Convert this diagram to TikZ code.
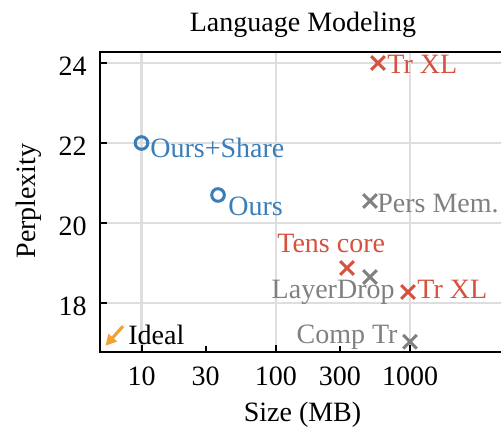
\documentclass[tikz,border=0pt]{standalone}
\usepackage{fontspec}
\setmainfont{Liberation Serif}
\usetikzlibrary{shapes.misc,arrows.meta}

\definecolor{oursblue}{RGB}{58,125,184}
\definecolor{trred}{RGB}{212,82,62}
\definecolor{othergrey}{RGB}{128,128,128}
\definecolor{idealorange}{RGB}{242,162,48}
\definecolor{gridgrey}{RGB}{222,222,222}

\begin{document}
\begin{tikzpicture}[
    every node/.style={font=\fontsize{14}{16}\selectfont, inner sep=0pt},
    ringmark/.style={circle, draw=oursblue, line width=1.5pt, minimum size=6.3pt},
    crossmark/.style={cross out, draw=#1, line width=1.5pt, minimum size=5.3pt},
    gridline/.style={draw=gridgrey, line width=1.2pt},
    spine/.style={line width=1pt}
]
    \useasboundingbox (0,0) rectangle (250.5pt,215pt);
    \clip (0,0) rectangle (250.5pt,215pt);

    % Title and axis labels
    \node[anchor=base] (title) at (151.5pt,199.5pt) {Language Modeling};
    \node[anchor=base] (xlabel) at (151.25pt,4.5pt) {Size (MB)};
    \node[rotate=90] (ylabel) at (14.5pt,114.5pt) {Perplexity};

    % log10(size) along x, perplexity along y
    \begin{scope}[shift={(3.625pt,-296.5pt)}, x=67.125pt, y=20pt]
        % Grid
        \foreach \lx in {1,2,3}
            \draw[gridline] (\lx,16.775) -- (\lx,24.275);
        \foreach \py in {18,20,22,24}
            \draw[gridline] (0.691,\py) -- (3.8,\py);

        % Frame
        \draw[spine] (3.8,24.275) -- (0.691,24.275) -- (0.691,16.775) -- (3.8,16.775);

        % Ticks
        \foreach \py in {18,20,22,24} {
            \draw[spine] (0.691,\py) -- ++(3.5pt,0);
            \node[anchor=base east] (ytick\py) at (0.594,\py-0.3) {\py};
        }
        \foreach \lx/\sz/\len in {1/10/3.5pt, 1.477/30/3pt, 2/100/3.5pt, 2.477/300/3pt, 3/1000/3.5pt} {
            \draw[spine] (\lx,16.775) -- ++(0,\len);
            \node[anchor=base] (xtick\sz) at (\lx,15.95) {\sz};
        }

        % Ours
        \node[ringmark] (share) at (1,22) {};
        \node[anchor=base west, text=oursblue] (sharelab) at (1.063,21.65) {Ours+Share};
        \node[ringmark] (ours) at (1.570,20.7) {};
        \node[anchor=base west, text=oursblue] (ourslab) at (1.644,20.2) {Ours};

        % Transformer XL and tensorized
        \node[crossmark=trred] (trxlbig) at (2.762,24) {};
        \node[anchor=base west, text=trred] (trxlbiglab) at (2.829,23.75) {Tr XL};
        \node[crossmark=trred] (tens) at (2.530,18.875) {};
        \node[anchor=base west, text=trred] (tenslab) at (2.009,19.275) {Tens core};
        \node[crossmark=trred] (trxlsmall) at (2.985,18.275) {};
        \node[anchor=base west, text=trred] (trxlsmalllab) at (3.052,18.125) {Tr XL};

        % Other baselines
        \node[crossmark=othergrey] (pers) at (2.702,20.55) {};
        \node[anchor=base west, text=othergrey] (perslab) at (2.754,20.275) {Pers Mem.};
        \node[crossmark=othergrey] (layer) at (2.702,18.65) {};
        \node[anchor=base east, text=othergrey] (layerlab) at (2.888,18.125) {LayerDrop};
        \node[crossmark=othergrey] (comp) at (3.0,17.03) {};
        \node[anchor=base east, text=othergrey] (complab) at (2.91,17.0) {Comp Tr};

        % Ideal corner
        \coordinate (idealtail) at (0.862,17.42);
        \coordinate (idealhead) at (0.732,16.93);
        \draw[idealorange, line width=1.6pt, -{Triangle[length=5.5pt,width=5.5pt]}] (idealtail) -- (idealhead);
        \node[anchor=base west] (ideallab) at (0.899,16.975) {Ideal};
    \end{scope}
\end{tikzpicture}
\end{document}
